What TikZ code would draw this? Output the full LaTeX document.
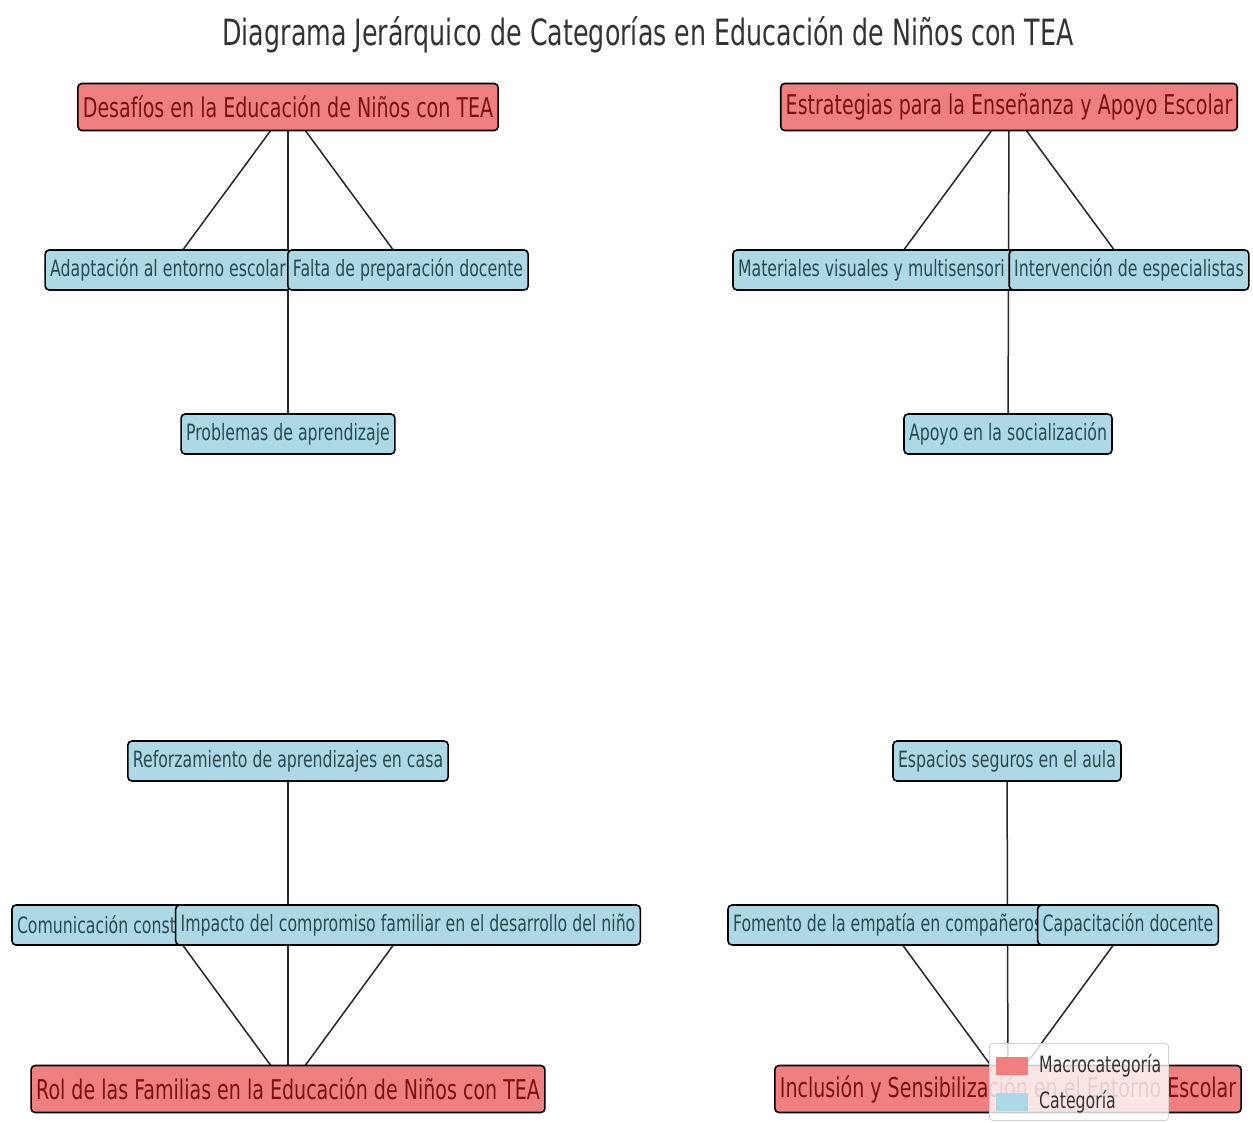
\documentclass[tikz,border=0pt]{standalone}
\usepackage{fontspec}
\setmainfont{DejaVu Sans}[FakeStretch=0.70]
\usetikzlibrary{backgrounds}
\definecolor{macrofill}{HTML}{F08080}
\definecolor{catfill}{HTML}{ADD8E6}
\definecolor{macrotext}{HTML}{7A1010}
\definecolor{cattext}{HTML}{2A4A4F}
\definecolor{titletext}{HTML}{333333}
\begin{document}
\begin{tikzpicture}[x=1pt,y=-1pt,
  macro/.style={draw=black, line width=1.6pt, fill=macrofill, rounded corners=4pt, text=macrotext,
    font=\fontsize{27.2}{31}\selectfont, minimum height=47pt, inner xsep=5pt, inner ysep=0pt},
  cat/.style={draw=black, line width=1.6pt, fill=catfill, rounded corners=4pt, text=cattext,
    font=\fontsize{22.5}{26}\selectfont, minimum height=40pt, inner xsep=5pt, inner ysep=0pt},
  link/.style={draw=black!85, line width=1.5pt},
  legtext/.style={anchor=west, text=titletext, font=\fontsize{22.5}{26}\selectfont, inner sep=0pt}]
\useasboundingbox (0,0) rectangle (1253,1122);

\node[font=\fontsize{36.2}{40}\selectfont, text=titletext, anchor=base] (title) at (648,45)
  {Diagrama Jerárquico de Categorías en Educación de Niños con TEA};

% top-left group
\node[macro] (m1) at (288,107) {Desafíos en la Educación de Niños con TEA};
\node[cat] (c11) at (168,270) {Adaptación al entorno escolar};
\node[cat] (c12) at (408,270) {Falta de preparación docente};
\node[cat] (c13) at (288,434) {Problemas de aprendizaje};

% top-right group
\node[macro] (m2) at (1009,107) {Estrategias para la Enseñanza y Apoyo Escolar};
\node[cat] (c21) at (889,270) {\makebox[302pt][l]{Materiales visuales y multisensori}};
\node[cat] (c22) at (1129,270) {Intervención de especialistas};
\node[cat] (c23) at (1008,434) {Apoyo en la socialización};

% bottom-left group
\node[macro] (m3) at (288,1089) {Rol de las Familias en la Educación de Niños con TEA};
\node[cat] (c31) at (288,761) {Reforzamiento de aprendizajes en casa};
\node[cat] (c32) at (168,925) {\makebox[302pt][l]{Comunicación const}};
\node[cat] (c33) at (408,925) {Impacto del compromiso familiar en el desarrollo del niño};

% bottom-right group
\node[macro] (m4) at (1008,1089) {Inclusión y Sensibilización en el Entorno Escolar};
\node[cat] (c41) at (1007,761) {Espacios seguros en el aula};
\node[cat] (c42) at (888,925) {\makebox[310pt][l]{Fomento de la empatía en compañeros}};
\node[cat] (c43) at (1128,925) {Capacitación docente};

\begin{scope}[on background layer]
  \fill[white] (0,0) rectangle (1253,1122);
  \draw[link] (m1.center) -- (c11.center);
  \draw[link] (m1.center) -- (c12.center);
  \draw[link] (m1.center) -- (c13.center);
  \draw[link] (m2.center) -- (c21.center);
  \draw[link] (m2.center) -- (c22.center);
  \draw[link] (m2.center) -- (c23.center);
  \draw[link] (m3.center) -- (c31.center);
  \draw[link] (m3.center) -- (c32.center);
  \draw[link] (m3.center) -- (c33.center);
  \draw[link] (m4.center) -- (c41.center);
  \draw[link] (m4.center) -- (c42.center);
  \draw[link] (m4.center) -- (c43.center);
\end{scope}

% legend
\node[draw=black!18, line width=0.8pt, fill=white, fill opacity=0.8, rounded corners=3pt,
  minimum width=179pt, minimum height=77pt, inner sep=0pt, anchor=north west] (leg) at (989,1043) {};
\node[fill=macrofill, minimum width=32pt, minimum height=18pt, inner sep=0pt] (legm) at (1012,1066) {};
\node[fill=catfill, minimum width=32pt, minimum height=18pt, inner sep=0pt] (legc) at (1012,1102) {};
\node[legtext] (legmt) at (1039,1066) {Macrocategoría};
\node[legtext] (legct) at (1039,1102) {Categoría};
\end{tikzpicture}
\end{document}
